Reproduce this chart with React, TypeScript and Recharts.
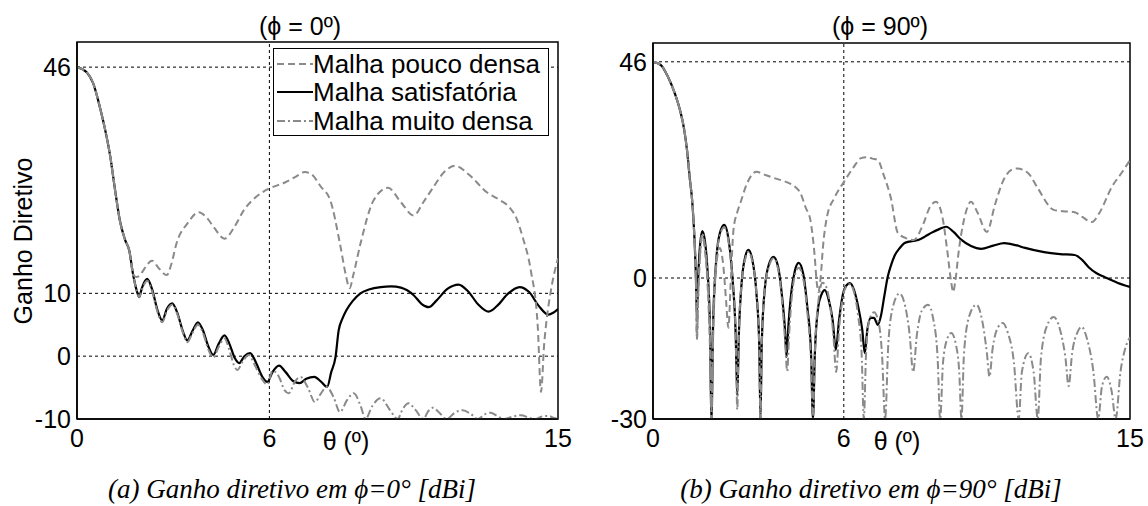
import React from "react";
import {
  LineChart,
  Line,
  XAxis,
  YAxis,
  ReferenceLine,
  ReferenceArea,
} from "recharts";

// ---------- categories / ticks ----------
const xTicks = [0, 6, 15];
const leftYTicks = [-10, 0, 10, 46];
const rightYTicks = [-30, 0, 46];
const seriesNames = ["Malha pouco densa", "Malha satisfatória", "Malha muito densa"];

// ---------- phi = 0 panel (theta, gain) ----------
const phi0Lobe: [number, number][] = [
  [0, 46], [0.3, 45.2], [0.5, 43.5], [0.72, 39.5], [0.9, 35.5], [1.03, 32], [1.2, 26],
  [1.34, 21.5], [1.5, 18.5], [1.63, 16.8], [1.75, 13],
];
const phi0Pouco: [number, number][] = [
  [1.85, 12.6], [1.95, 12.8], [2.05, 13.5], [2.15, 14.3], [2.34, 15.2], [2.55, 14], [2.8, 12.9],
  [2.95, 14.8], [3.1, 17.9], [3.44, 21.1], [3.8, 22.9], [4.05, 22], [4.27, 20.5], [4.6, 18.7],
  [4.9, 20.5], [5.2, 23.2], [5.7, 25.8], [6.0, 26.7], [6.47, 27.6], [6.8, 28.5], [7.1, 29.3],
  [7.3, 29], [7.6, 27], [7.9, 24.8], [8.2, 17.9], [8.38, 13], [8.5, 10.8], [8.62, 13],
  [8.84, 17.9], [9.25, 24.8], [9.7, 26.8], [10.1, 24.5], [10.5, 22.4], [10.8, 24.5],
  [11.1, 26.8], [11.45, 29.3], [11.8, 30.3], [12.2, 29], [12.8, 26], [13.2, 24.8], [13.5, 23.6],
  [13.7, 22], [13.9, 18.9], [14.15, 13.7], [14.37, 4.6], [14.47, -5.7], [14.57, 2], [14.65, 6],
  [14.78, 10.5], [15, 15.6],
];
const phi0Satis: [number, number][] = [
  [1.87, 10.3], [1.94, 9.4], [2.02, 10.8], [2.19, 12.3], [2.35, 10.5], [2.5, 7.5], [2.66, 5.7],
  [2.8, 7.5], [2.97, 8.4], [3.12, 7], [3.3, 4], [3.44, 2.5], [3.6, 4], [3.77, 5.4], [3.92, 4.2],
  [4.1, 1.5], [4.25, 0.2], [4.42, 2], [4.6, 3.3], [4.75, 2], [4.92, -0.3], [5.06, -1.1],
  [5.22, 0], [5.4, 0.5], [5.58, -1], [5.78, -3.3], [5.94, -4.1], [6.1, -2.5], [6.3, -1.5],
  [6.5, -2.5], [6.75, -4], [6.94, -4.3], [7.15, -3.6], [7.4, -3.3], [7.6, -4], [7.8, -4.9],
  [7.93, -2.5], [8.06, -0.2], [8.16, 4.1], [8.28, 6], [8.4, 7.3], [8.6, 8.8], [8.84, 10],
  [9.1, 10.6], [9.47, 11], [9.8, 11.1], [10.1, 10.9], [10.5, 9.7], [10.75, 8.3], [10.97, 7.8],
  [11.2, 8.8], [11.55, 10.7], [11.9, 11.4], [12.2, 10.3], [12.5, 8.3], [12.84, 7.1], [13.1, 8],
  [13.45, 10], [13.8, 11], [14.1, 10.2], [14.4, 8], [14.7, 6.6], [14.85, 6.9], [15, 7.5],
];
const phi0Muito: [number, number][] = [
  [1.87, 10.3], [1.94, 9.4], [2.02, 10.5], [2.19, 12], [2.35, 10.2], [2.5, 7.2], [2.66, 5.4],
  [2.8, 7.2], [2.97, 8.2], [3.12, 6.8], [3.3, 3.8], [3.44, 2.2], [3.6, 3.7], [3.77, 5],
  [3.92, 3.8], [4.1, 1], [4.25, -0.2], [4.42, 1.5], [4.6, 2.8], [4.75, 1], [4.9, -1.5],
  [5.0, -2.2], [5.15, -1], [5.35, 0.2], [5.55, -1.5], [5.75, -3.5], [5.94, -4.5], [6.1, -2.3],
  [6.3, -3.3], [6.47, -5.4], [6.6, -5.9], [6.8, -4], [6.97, -3.3], [7.2, -5], [7.42, -7.3],
  [7.6, -6], [7.78, -4.9], [8.0, -6.5], [8.2, -8.9], [8.42, -7], [8.63, -5.9], [8.85, -8],
  [9.0, -10], [9.2, -8], [9.47, -6.7], [9.75, -8.5], [10.0, -10], [10.15, -8.5], [10.34, -7.5],
  [10.55, -8.5], [10.8, -10], [10.95, -8.8], [11.1, -8.2], [11.3, -9], [11.53, -10],
  [11.78, -9], [12.03, -8.6], [12.28, -9.2], [12.5, -10], [12.7, -9.3], [12.9, -9],
  [13.1, -9.5], [13.3, -10], [13.6, -9.6], [13.85, -9.4], [14.1, -9.8], [14.3, -10],
  [14.5, -9.6], [14.7, -9.5], [14.85, -9.8], [15, -10],
];

// ---------- phi = 90 panel (theta, gain) ----------
const phi90Lobe: [number, number][] = [
  [0, 46], [0.25, 45.3], [0.47, 42.8], [0.7, 39], [0.85, 35.7], [0.97, 32], [1.07, 27.2],
  [1.16, 21], [1.23, 16.6], [1.3, 9], [1.35, 0],
];
const phi90Pouco: [number, number][] = [
  [1.38, -13], [1.43, -2], [1.5, 7], [1.55, 9], [1.63, 6], [1.72, -2], [1.78, -12], [1.84, -28],
  [1.9, -10], [1.98, 2], [2.1, 6.4], [2.22, 2], [2.3, -5], [2.37, -10.6], [2.45, 0], [2.53, 10.2],
  [2.65, 14], [2.75, 16], [2.95, 20], [3.25, 22.6], [3.5, 22], [3.79, 21.3], [4.2, 20.4],
  [4.45, 19.5], [4.64, 18], [4.8, 15], [4.95, 12.3], [5.08, 5], [5.15, -1], [5.2, -3],
  [5.27, 0], [5.35, 7], [5.47, 13], [5.7, 17], [6.0, 20.4], [6.3, 23.5], [6.54, 25.5],
  [6.73, 25.7], [6.9, 25.4], [7.07, 25.1], [7.25, 22], [7.48, 17], [7.7, 9.6], [7.95, 8.5],
  [8.2, 8.1], [8.5, 11.5], [8.7, 15], [8.9, 16.2], [9.1, 13], [9.25, 6], [9.38, -1], [9.44, -3],
  [9.5, -1], [9.62, 6], [9.8, 13], [10.0, 16.2], [10.2, 14], [10.5, 9.8], [10.75, 15.5],
  [11.0, 20.5], [11.27, 23], [11.45, 23.3], [11.8, 22.3], [12.1, 19.1], [12.6, 14.5],
  [12.9, 14.2], [13.26, 14], [13.5, 13], [13.8, 11.9], [14.05, 14], [14.43, 19.4],
  [14.75, 22.5], [15, 25.1],
];
const phi90Satis: [number, number][] = [
  [1.38, -8], [1.42, 0], [1.48, 7], [1.55, 10], [1.63, 8], [1.72, 1], [1.79, -10], [1.84, -30],
  [1.89, -10], [1.97, 2], [2.1, 9.5], [2.24, 11.3], [2.38, 8], [2.5, 0], [2.6, -12], [2.65, -25],
  [2.7, -12], [2.8, 0], [2.9, 4.5], [3.0, 6], [3.12, 4], [3.25, -3], [3.34, -14], [3.38, -30],
  [3.42, -14], [3.52, -2], [3.65, 3], [3.79, 4.5], [3.93, 2.5], [4.06, -4], [4.15, -11],
  [4.2, -16.8], [4.25, -11], [4.35, -3], [4.46, 1.5], [4.58, 3.2], [4.72, 1], [4.85, -6],
  [4.97, -16], [5.03, -30], [5.09, -16], [5.2, -6], [5.3, -3.5], [5.4, -2.6], [5.52, -4.5],
  [5.65, -9], [5.75, -15.3], [5.85, -9], [5.97, -3.5], [6.08, -1.6], [6.19, -1.1], [6.32, -2.5],
  [6.45, -6], [6.58, -11], [6.66, -16], [6.74, -11], [6.85, -8.5], [6.95, -8.5], [7.07, -10],
  [7.17, -8], [7.27, -4], [7.38, 0.2], [7.5, 3], [7.6, 4.8], [7.75, 6.3], [7.9, 7.4], [8.1, 7.8],
  [8.34, 8.1], [8.55, 8.8], [8.75, 9.6], [9.0, 10.4], [9.22, 10.9], [9.45, 9.8], [9.7, 8.1],
  [10.0, 6.8], [10.32, 6.2], [10.7, 6.9], [11.05, 7.4], [11.4, 7], [11.7, 6.4], [12.3, 5.5],
  [12.8, 5.1], [13.26, 4.9], [13.5, 3.8], [13.7, 2.3], [13.95, 1], [14.2, 0.2], [14.6, -1],
  [15, -1.9],
];
const phi90Muito: [number, number][] = [
  [1.38, -13], [1.43, -2], [1.5, 7], [1.55, 9.5], [1.63, 7], [1.72, 0], [1.79, -10], [1.84, -30],
  [1.89, -10], [1.97, 2], [2.1, 9], [2.24, 10.8], [2.38, 7.5], [2.5, 0], [2.6, -12], [2.65, -28],
  [2.7, -12], [2.8, 0], [2.9, 4], [3.0, 5.6], [3.12, 3.6], [3.25, -3], [3.34, -14], [3.38, -30],
  [3.42, -14], [3.52, -2], [3.65, 2.5], [3.79, 4.2], [3.93, 2], [4.06, -5], [4.15, -13],
  [4.22, -19.8], [4.28, -12], [4.38, -3], [4.48, 1], [4.58, 2.2], [4.72, 0], [4.85, -7],
  [4.97, -18], [5.03, -30], [5.09, -16], [5.2, -5], [5.33, -1], [5.42, -1.5], [5.55, -5],
  [5.67, -12], [5.76, -20], [5.85, -11], [5.97, -4], [6.08, -1.8], [6.19, -1.3], [6.32, -3],
  [6.45, -8], [6.56, -16], [6.63, -30], [6.7, -16], [6.8, -9], [6.95, -7.3], [7.08, -9],
  [7.2, -16], [7.3, -30], [7.4, -14], [7.55, -6], [7.75, -3.3], [7.93, -6], [8.07, -12],
  [8.18, -20], [8.3, -12], [8.45, -7], [8.65, -5.7], [8.82, -9], [8.95, -17], [9.03, -30],
  [9.12, -18], [9.25, -13], [9.38, -11.7], [9.52, -14], [9.63, -20], [9.7, -30], [9.78, -16],
  [9.95, -8], [10.17, -5.7], [10.35, -9], [10.5, -16], [10.58, -21], [10.68, -15], [10.85, -10.5],
  [11.0, -9.6], [11.15, -11.5], [11.35, -18], [11.5, -30], [11.6, -20], [11.8, -16], [11.97, -20],
  [12.1, -30], [12.2, -17], [12.4, -10], [12.6, -8.3], [12.8, -11], [12.97, -17], [13.07, -23],
  [13.18, -16], [13.35, -11.5], [13.48, -10.4], [13.65, -13], [13.85, -20], [14.0, -30],
  [14.12, -23], [14.27, -21], [14.42, -24], [14.55, -30], [14.7, -20], [14.85, -15], [15, -12.6],
];

// ---------- styles ----------
const SANS = "'Liberation Sans', Arial, sans-serif";
const SERIF = "'Liberation Serif', 'Times New Roman', serif";
const FS = 25;
const GRAY = "#8a8a8a";
const poucoDash = "7 4";
const muitoDash = "8 3 2 3";

const toPts = (a: [number, number][]) => a.map(([t, v]) => ({ t, v }));

type PanelProps = {
  left: number;
  width: number;
  margin: { top: number; right: number; bottom: number; left: number };
  yMin: number;
  yTicks: number[];
  hLines: number[];
  lobe: [number, number][];
  pouco: [number, number][];
  satis: [number, number][];
  muito: [number, number][];
};

function Panel(p: PanelProps) {
  const tickStyle = { fontSize: FS, fill: "#000", fontFamily: SANS };
  return (
    <div style={{ position: "absolute", left: p.left, top: 0 }}>
      <LineChart width={p.width} height={506} margin={p.margin}>
        <XAxis
          dataKey="t"
          type="number"
          domain={[0, 15]}
          ticks={xTicks}
          interval={0}
          tickSize={0}
          tickMargin={10}
          height={40}
          tick={tickStyle}
          axisLine={{ stroke: "#000", strokeWidth: 1.5 }}
          tickLine={false}
          allowDataOverflow
        />
        <YAxis
          type="number"
          domain={[p.yMin, 50]}
          ticks={p.yTicks}
          interval={0}
          tickSize={0}
          tickMargin={6}
          width={60}
          tick={tickStyle}
          axisLine={{ stroke: "#000", strokeWidth: 1.5 }}
          tickLine={false}
          allowDataOverflow
        />
        {p.hLines.map((h) => (
          <ReferenceLine key={h} y={h} stroke="#000" strokeDasharray="3 3" strokeWidth={1} />
        ))}
        <ReferenceLine x={6} stroke="#000" strokeDasharray="3 3" strokeWidth={1} />
        <ReferenceArea x1={0} x2={15} y1={p.yMin} y2={50} fill="none" stroke="#000" strokeWidth={1.5} />
        <Line
          data={toPts([...p.lobe, ...p.satis])}
          dataKey="v"
          type="monotone"
          stroke="#000"
          strokeWidth={2.2}
          dot={false}
          activeDot={false}
          isAnimationActive={false}
        />
        <Line
          data={toPts([...p.lobe, ...p.pouco])}
          dataKey="v"
          type="monotone"
          stroke={GRAY}
          strokeWidth={2}
          strokeDasharray={poucoDash}
          dot={false}
          activeDot={false}
          isAnimationActive={false}
        />
        <Line
          data={toPts([...p.lobe, ...p.muito])}
          dataKey="v"
          type="monotone"
          stroke={GRAY}
          strokeWidth={2}
          strokeDasharray={muitoDash}
          dot={false}
          activeDot={false}
          isAnimationActive={false}
        />
      </LineChart>
    </div>
  );
}

function Txt(props: { x: number; y: number; children: React.ReactNode; style?: React.CSSProperties; rotate?: boolean }) {
  return (
    <div
      style={{
        position: "absolute",
        left: props.x,
        top: props.y,
        transform: `translate(-50%, -50%)${props.rotate ? " rotate(-90deg)" : ""}`,
        whiteSpace: "nowrap",
        lineHeight: 1,
        fontFamily: SANS,
        fontSize: FS,
        color: "#000",
        ...props.style,
      }}
    >
      {props.children}
    </div>
  );
}

function LegendBox() {
  const rows = [
    { name: seriesNames[0], stroke: GRAY, dash: poucoDash, w: 2 },
    { name: seriesNames[1], stroke: "#000", dash: undefined, w: 2.2 },
    { name: seriesNames[2], stroke: GRAY, dash: muitoDash, w: 2 },
  ];
  return (
    <div
      style={{
        position: "absolute",
        left: 273,
        top: 48,
        width: 276,
        height: 88,
        border: "1px solid #000",
        background: "#fff",
        boxSizing: "border-box",
        fontFamily: SANS,
        fontSize: 26,
      }}
    >
      {rows.map((r, i) => (
        <div
          key={r.name}
          style={{ position: "absolute", left: 3, top: 1 + i * 28.5, height: 27, display: "flex", alignItems: "center", whiteSpace: "nowrap", lineHeight: 1 }}
        >
          <svg width={36} height={6} style={{ display: "block" }}>
            <line x1={0} y1={3} x2={36} y2={3} stroke={r.stroke} strokeWidth={r.w} strokeDasharray={r.dash} />
          </svg>
          <span>{r.name}</span>
        </div>
      ))}
    </div>
  );
}

export default function App() {
  return (
    <div style={{ position: "absolute", left: 0, top: 0, width: 1148, height: 506, background: "#fff", overflow: "hidden" }}>
      <Panel
        left={0}
        width={574}
        margin={{ top: 42, right: 16, bottom: 47, left: 17 }}
        yMin={-10}
        yTicks={leftYTicks}
        hLines={[46, 10, 0]}
        lobe={phi0Lobe}
        pouco={phi0Pouco}
        satis={phi0Satis}
        muito={phi0Muito}
      />
      <Panel
        left={574}
        width={574}
        margin={{ top: 43, right: 18, bottom: 47, left: 19 }}
        yMin={-30}
        yTicks={rightYTicks}
        hLines={[46, 0]}
        lobe={phi90Lobe}
        pouco={phi90Pouco}
        satis={phi90Satis}
        muito={phi90Muito}
      />
      <LegendBox />
      <Txt x={300} y={26}>(ϕ = 0º)</Txt>
      <Txt x={880} y={26}>(ϕ = 90º)</Txt>
      <Txt x={346} y={441}>θ (º)</Txt>
      <Txt x={897} y={441}>θ (º)</Txt>
      <Txt x={23} y={241} rotate>Ganho Diretivo</Txt>
      <Txt x={292} y={489} style={{ fontFamily: SERIF, fontStyle: "italic", fontSize: 27 }}>
        (a) Ganho diretivo em ϕ=0° [dBi]
      </Txt>
      <Txt x={871} y={489} style={{ fontFamily: SERIF, fontStyle: "italic", fontSize: 27 }}>
        (b) Ganho diretivo em ϕ=90° [dBi]
      </Txt>
    </div>
  );
}
